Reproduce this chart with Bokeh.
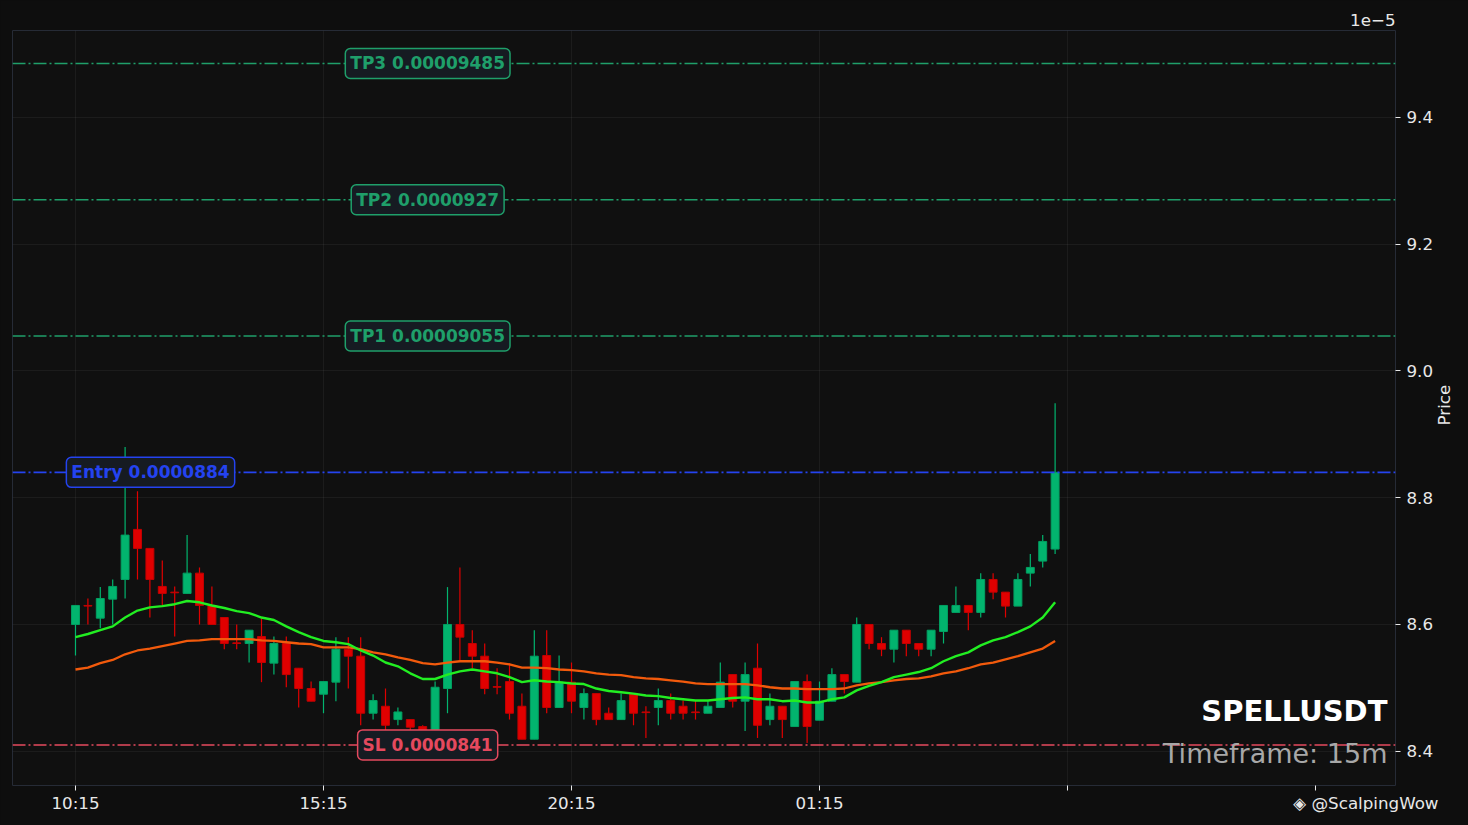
import math
from bokeh.plotting import figure
from bokeh.models import ColumnDataSource, Span, Label, FixedTicker, Range1d, LinearAxis
from bokeh.embed import file_html
from bokeh.resources import INLINE

# prices in units of 1e-5 USDT (15m candles starting 10:15)
opens = [8.600, 8.630, 8.610, 8.640, 8.671, 8.750, 8.720, 8.660, 8.651, 8.649,
         8.681, 8.630, 8.611, 8.571, 8.570, 8.581, 8.539, 8.570, 8.531, 8.499,
         8.490, 8.509, 8.561, 8.550, 8.460, 8.471, 8.450, 8.450, 8.439, 8.430,
         8.499, 8.600, 8.570, 8.550, 8.502, 8.510, 8.471, 8.419, 8.551, 8.469,
         8.509, 8.469, 8.491, 8.460, 8.450, 8.491, 8.462, 8.469, 8.480, 8.471,
         8.462, 8.460, 8.469, 8.521, 8.479, 8.531, 8.450, 8.471, 8.439, 8.510,
         8.449, 8.479, 8.521, 8.509, 8.600, 8.570, 8.561, 8.591, 8.570, 8.561,
         8.589, 8.619, 8.630, 8.619, 8.671, 8.651, 8.629, 8.681, 8.700, 8.719]
highs = [8.630, 8.641, 8.659, 8.671, 8.880, 8.810, 8.720, 8.701, 8.660, 8.741,
         8.690, 8.660, 8.611, 8.600, 8.591, 8.610, 8.581, 8.581, 8.531, 8.510,
         8.510, 8.580, 8.580, 8.580, 8.490, 8.499, 8.469, 8.450, 8.441, 8.510,
         8.659, 8.690, 8.591, 8.570, 8.531, 8.539, 8.491, 8.591, 8.591, 8.551,
         8.540, 8.499, 8.491, 8.469, 8.491, 8.491, 8.471, 8.499, 8.491, 8.480,
         8.480, 8.480, 8.540, 8.521, 8.540, 8.570, 8.491, 8.471, 8.510, 8.521,
         8.510, 8.531, 8.521, 8.611, 8.600, 8.580, 8.591, 8.591, 8.570, 8.591,
         8.630, 8.660, 8.630, 8.681, 8.681, 8.651, 8.681, 8.711, 8.741, 8.949]
lows = [8.551, 8.600, 8.594, 8.600, 8.641, 8.671, 8.611, 8.630, 8.581, 8.649,
        8.600, 8.600, 8.561, 8.561, 8.540, 8.509, 8.521, 8.501, 8.469, 8.479,
        8.460, 8.479, 8.499, 8.441, 8.450, 8.433, 8.441, 8.425, 8.425, 8.420,
        8.460, 8.544, 8.531, 8.490, 8.490, 8.450, 8.419, 8.419, 8.460, 8.469,
        8.460, 8.450, 8.441, 8.450, 8.450, 8.441, 8.421, 8.441, 8.450, 8.450,
        8.450, 8.460, 8.469, 8.469, 8.432, 8.421, 8.441, 8.421, 8.439, 8.413,
        8.449, 8.479, 8.491, 8.509, 8.561, 8.550, 8.540, 8.550, 8.550, 8.550,
        8.570, 8.619, 8.591, 8.611, 8.640, 8.611, 8.629, 8.660, 8.690, 8.711]
closes = [8.630, 8.629, 8.641, 8.660, 8.741, 8.720, 8.671, 8.649, 8.650, 8.681,
          8.630, 8.600, 8.570, 8.570, 8.591, 8.540, 8.570, 8.521, 8.499, 8.479,
          8.510, 8.561, 8.550, 8.460, 8.480, 8.441, 8.462, 8.438, 8.433, 8.501,
          8.600, 8.580, 8.550, 8.499, 8.501, 8.460, 8.419, 8.550, 8.469, 8.509,
          8.479, 8.491, 8.450, 8.450, 8.480, 8.460, 8.461, 8.480, 8.460, 8.460,
          8.461, 8.471, 8.509, 8.479, 8.521, 8.441, 8.471, 8.450, 8.510, 8.439,
          8.479, 8.521, 8.510, 8.600, 8.570, 8.561, 8.591, 8.570, 8.561, 8.591,
          8.630, 8.630, 8.619, 8.671, 8.651, 8.629, 8.671, 8.690, 8.731, 8.840]
ema_fast = [8.580, 8.585, 8.591, 8.597, 8.611, 8.622, 8.627, 8.629, 8.632, 8.637,
            8.635, 8.630, 8.626, 8.621, 8.618, 8.611, 8.607, 8.597, 8.588, 8.580,
            8.574, 8.572, 8.569, 8.559, 8.551, 8.540, 8.534, 8.523, 8.514, 8.514,
            8.521, 8.526, 8.529, 8.526, 8.523, 8.517, 8.509, 8.512, 8.510, 8.509,
            8.507, 8.506, 8.499, 8.495, 8.493, 8.491, 8.488, 8.487, 8.484, 8.482,
            8.480, 8.480, 8.482, 8.484, 8.485, 8.482, 8.482, 8.479, 8.480, 8.477,
            8.477, 8.482, 8.485, 8.496, 8.503, 8.509, 8.517, 8.521, 8.525, 8.531,
            8.542, 8.550, 8.556, 8.567, 8.575, 8.580, 8.588, 8.597, 8.611, 8.635]
ema_slow = [8.529, 8.532, 8.539, 8.544, 8.553, 8.559, 8.562, 8.566, 8.570, 8.574,
            8.575, 8.577, 8.577, 8.577, 8.577, 8.575, 8.574, 8.572, 8.570, 8.569,
            8.564, 8.564, 8.564, 8.561, 8.556, 8.553, 8.548, 8.544, 8.539, 8.537,
            8.540, 8.542, 8.542, 8.542, 8.540, 8.537, 8.532, 8.532, 8.531, 8.529,
            8.528, 8.526, 8.523, 8.521, 8.520, 8.517, 8.515, 8.514, 8.512, 8.510,
            8.507, 8.506, 8.506, 8.506, 8.506, 8.504, 8.501, 8.499, 8.499, 8.498,
            8.498, 8.498, 8.499, 8.504, 8.507, 8.509, 8.512, 8.514, 8.515, 8.518,
            8.523, 8.526, 8.531, 8.537, 8.540, 8.545, 8.550, 8.556, 8.562, 8.574]

time_tick_pos = [0, 20, 40, 60, 80, 100]
time_tick_labels = ["10:15", "15:15", "20:15", "01:15", "", ""]
price_ticks = [8.4, 8.6, 8.8, 9.0, 9.2, 9.4]
price_title = "Price"

level_values = [9.485, 9.270, 9.055, 8.840, 8.410]
level_texts = ["TP3 0.00009485", "TP2 0.0000927", "TP1 0.00009055", "Entry 0.0000884", "SL 0.0000841"]
level_colors = ["#1f9f6a", "#1f9f6a", "#1f9f6a", "#2443f0", "#e5495e"]
level_label_x = [28.4, 28.4, 28.4, 6.05, 28.4]

symbol = "SPELLUSDT"
timeframe = "Timeframe: 15m"
watermark = "◈ @ScalpingWow"

FONT = "DejaVu Sans"
UP = "#02b46e"
DOWN = "#e00000"

idx = list(range(len(opens)))
colors = [UP if c >= o else DOWN for o, c in zip(opens, closes)]
edge = ["#02a062" if c >= o else "#c40000" for o, c in zip(opens, closes)]
src = ColumnDataSource(dict(
    x=idx, o=opens, h=highs, l=lows, c=closes,
    top=[max(o, c) for o, c in zip(opens, closes)],
    bot=[min(o, c) for o, c in zip(opens, closes)],
    col=colors, edge=edge,
))

p = figure(width=1468, height=825, output_backend="svg", toolbar_location=None,
           x_range=Range1d(-5.08, 106.45), y_range=Range1d(8.346, 9.537),
           y_axis_location="right",
           min_border_left=12, min_border_right=73, min_border_top=30, min_border_bottom=40,
           background_fill_color="#101010", border_fill_color="#0e0e0e",
           outline_line_color="#262b36", outline_line_width=1)

# grid
p.xgrid.ticker = FixedTicker(ticks=time_tick_pos[:5])
p.ygrid.ticker = FixedTicker(ticks=price_ticks)
p.grid.grid_line_color = "#ffffff"
p.grid.grid_line_alpha = 0.05

# level lines
for v, col in zip(level_values, level_colors):
    p.add_layout(Span(location=v, dimension="width", line_color=col,
                      line_width=1.6, line_dash="13 3 2 3"))

# candles
p.segment(x0="x", y0="l", x1="x", y1="h", source=src, line_color="col", line_width=1.2)
p.vbar(x="x", top="top", bottom="bot", width=0.64, source=src,
       fill_color="col", line_color="edge", line_width=1)

# EMAs
p.line(idx, ema_slow, line_color="#f25a0c", line_width=2.3)
p.line(idx, ema_fast, line_color="#22ee22", line_width=2.4)

# level labels
for v, t, col, lx in zip(level_values, level_texts, level_colors, level_label_x):
    p.add_layout(Label(x=lx, y=v, text=t, text_align="center", text_baseline="middle",
                       text_color=col, text_font_size="17px", text_font_style="bold",
                       text_font=FONT, background_fill_color="#161b22",
                       background_fill_alpha=1.0, border_line_color=col,
                       border_line_width=1.5, border_radius=5, padding=5))

# symbol / timeframe
p.add_layout(Label(x=105.8, y=8.463, text=symbol, text_align="right", text_baseline="middle",
                   text_color="#ffffff", text_font_size="29px", text_font_style="bold",
                   text_font=FONT))
p.add_layout(Label(x=105.8, y=8.397, text=timeframe, text_align="right", text_baseline="middle",
                   text_color="#a8a8a8", text_font_size="27px", text_font=FONT))

# axes
overrides = {k: v for k, v in zip(time_tick_pos, time_tick_labels)}
overrides[time_tick_pos[-1]] = "\u00a0" * 19 + watermark   # watermark sits on the last tick
p.xaxis.ticker = FixedTicker(ticks=time_tick_pos)
p.xaxis.major_label_overrides = overrides
p.yaxis.ticker = FixedTicker(ticks=price_ticks)
p.yaxis.major_label_overrides = {k: "%.1f" % k for k in price_ticks}

# axis title as a rotated single label of an outer right axis (reads bottom-to-top)
title_anchor = 8.914
title_axis = LinearAxis(ticker=FixedTicker(ticks=[title_anchor]),
                        major_label_overrides={title_anchor: price_title},
                        major_label_orientation=math.pi / 2)
p.add_layout(title_axis, "right")

for ax in (p.xaxis[0], p.yaxis[0], title_axis):
    ax.axis_line_color = None
    ax.major_tick_line_color = "#e8e8e8"
    ax.major_tick_out = 5
    ax.major_tick_in = 0
    ax.minor_tick_line_color = None
    ax.major_label_text_color = "#e8e8e8"
    ax.major_label_text_font = FONT
    ax.major_label_text_font_size = "16.7px"
p.xaxis[0].major_label_standoff = 2
p.yaxis[0].major_label_standoff = 6
title_axis.major_tick_line_color = None
title_axis.major_tick_out = 0
title_axis.major_label_standoff = 8

p.title.text = "1e\u22125"
p.title.align = "right"
p.title.text_color = "#e8e8e8"
p.title.text_font = FONT
p.title.text_font_size = "16.7px"
p.title.text_font_style = "normal"
p.title.standoff = 10

html = file_html(p, INLINE)
html = html.replace("</head>", "<style>html,body{margin:0;padding:0;background:#0e0e0e;}</style></head>", 1)
open("out.html", "w").write(html)
